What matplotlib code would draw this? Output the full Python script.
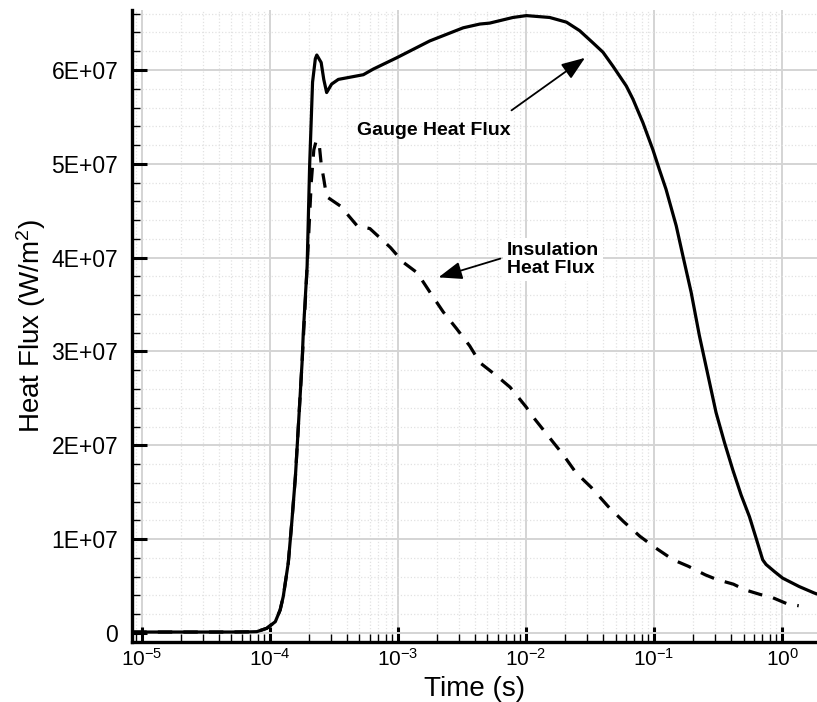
import numpy as np
import matplotlib
matplotlib.use("Agg")
import matplotlib.pyplot as plt
from matplotlib.ticker import FixedLocator, NullFormatter

plt.rcParams['font.family'] = ['Liberation Sans', 'DejaVu Sans']
plt.rcParams['mathtext.fontset'] = 'custom'
plt.rcParams['mathtext.rm'] = 'Liberation Sans'
plt.rcParams['mathtext.it'] = 'Liberation Sans:italic'
plt.rcParams['mathtext.bf'] = 'Liberation Sans:bold'

# Gauge heat flux (solid)
gauge_t = [8.4e-6, 5.0e-5, 7.0e-5, 7.89e-5, 9.44e-5, 1.10e-4, 1.20e-4, 1.27e-4, 1.39e-4,
           1.48e-4, 1.58e-4, 1.66e-4, 1.78e-4, 1.82e-4, 1.95e-4, 2.04e-4, 2.15e-4,
           2.26e-4, 2.32e-4, 2.51e-4, 2.63e-4, 2.77e-4, 3.03e-4, 3.42e-4, 5.36e-4,
           6.41e-4, 9.75e-4, 1.77e-3, 3.23e-3, 4.36e-3, 5.2e-3, 7.9e-3, 1.007e-2,
           1.53e-2, 2.07e-2, 2.62e-2, 3.33e-2, 3.99e-2, 4.78e-2, 6.07e-2, 6.84e-2,
           8.18e-2, 9.80e-2, 0.110, 0.124, 0.149, 0.168, 0.195, 0.226, 0.255, 0.305,
           0.355, 0.412, 0.479, 0.556, 0.627, 0.706, 0.750, 0.871, 1.01, 1.36, 1.79, 1.88]
gauge_q = [1e5, 1e5, 1.2e5, 1.4e5, 5e5, 1.2e6, 2.45e6, 3.9e6, 7.5e6,
           1.18e7, 1.67e7, 2.17e7, 2.88e7, 3.2e7, 3.91e7, 4.98e7, 5.87e7,
           6.12e7, 6.16e7, 6.08e7, 5.9e7, 5.76e7, 5.85e7, 5.9e7, 5.95e7,
           6.01e7, 6.13e7, 6.31e7, 6.45e7, 6.49e7, 6.50e7, 6.56e7, 6.58e7,
           6.56e7, 6.51e7, 6.42e7, 6.29e7, 6.19e7, 6.04e7, 5.83e7, 5.69e7,
           5.44e7, 5.15e7, 4.94e7, 4.73e7, 4.34e7, 4.02e7, 3.63e7, 3.17e7, 2.84e7, 2.35e7,
           2.03e7, 1.74e7, 1.47e7, 1.24e7, 1.01e7, 7.8e6, 7.3e6, 6.55e6, 5.85e6, 4.95e6, 4.25e6, 4.15e6]

# Insulation heat flux (dashed)
insul_t = [8.4e-6, 5.0e-5, 7.0e-5, 7.89e-5, 9.44e-5, 1.10e-4, 1.20e-4, 1.27e-4, 1.39e-4,
           1.48e-4, 1.58e-4, 1.66e-4, 1.78e-4, 1.95e-4, 2.1e-4, 2.2e-4, 2.3e-4, 2.42e-4,
           2.51e-4, 2.63e-4, 2.77e-4, 3.55e-4, 4.79e-4, 6.03e-4, 8.7e-4, 1.10e-3,
           1.41e-3, 1.82e-3, 2.26e-3, 2.88e-3, 3.63e-3, 4.37e-3, 5.9e-3, 7.5e-3,
           1.0e-2, 1.17e-2, 1.55e-2, 1.95e-2, 2.45e-2, 3.24e-2, 4.37e-2, 5.75e-2,
           7.76e-2, 0.102, 0.141, 0.186, 0.251, 0.309, 0.417, 0.513, 0.676, 0.832,
           1.10, 1.35]
insul_q = [1e5, 1e5, 1.2e5, 1.4e5, 5e5, 1.2e6, 2.45e6, 3.9e6, 7.5e6,
           1.18e7, 1.67e7, 2.17e7, 2.88e7, 3.9e7, 4.8e7, 5.15e7, 5.25e7, 5.22e7,
           5.0e7, 4.84e7, 4.65e7, 4.55e7, 4.34e7, 4.31e7, 4.11e7, 3.95e7,
           3.84e7, 3.61e7, 3.42e7, 3.24e7, 3.06e7, 2.88e7, 2.74e7, 2.62e7,
           2.41e7, 2.28e7, 2.07e7, 1.90e7, 1.71e7, 1.55e7, 1.35e7, 1.19e7,
           1.03e7, 9.1e6, 7.8e6, 7.1e6, 6.2e6, 5.7e6, 5.2e6, 4.6e6, 4.1e6, 3.8e6,
           3.1e6, 2.9e6]

y_ticks = [0, 1e7, 2e7, 3e7, 4e7, 5e7, 6e7]
y_labels = ['0', '1E+07', '2E+07', '3E+07', '4E+07', '5E+07', '6E+07']
x_ticks = [1e-5, 1e-4, 1e-3, 1e-2, 1e-1, 1e0]
x_labels = [r'$\mathregular{10^{-5}}$', r'$\mathregular{10^{-4}}$', r'$\mathregular{10^{-3}}$',
            r'$\mathregular{10^{-2}}$', r'$\mathregular{10^{-1}}$', r'$\mathregular{10^{0}}$']

fig = plt.figure(figsize=(8.17, 7.02), dpi=100)
ax = fig.add_axes([0.1616, 0.0855, 0.8384, 0.9003])

ax.plot(gauge_t, gauge_q, color='black', lw=2.3, zorder=3)
ln, = ax.plot(insul_t, insul_q, color='black', lw=2.3, zorder=3)
ln.set_dashes((4.5, 3.5))

ax.set_xscale('log')
ax.set_xlim(8.36e-6, 1.875)
ax.set_ylim(-9.6e5, 6.64e7)

ax.set_xticks(x_ticks)
ax.set_xticklabels(x_labels, fontsize=15)
ax.xaxis.set_minor_locator(FixedLocator(
    [m * 10.0 ** e for e in range(-6, 1) for m in range(2, 10)]))
ax.xaxis.set_minor_formatter(NullFormatter())
ax.set_yticks(y_ticks)
ax.set_yticklabels(y_labels, fontsize=16.5)
ax.yaxis.set_minor_locator(FixedLocator(np.arange(0, 6.7e7, 2e6)))

ax.tick_params(which='major', direction='in', length=11, width=2.2, pad=4, color='black')
ax.tick_params(axis='y', which='major', pad=10)
ax.tick_params(which='minor', direction='in', length=6, width=1.0, color='black')

ax.grid(which='major', color='#d4d4d4', lw=1.4, zorder=0)
ax.grid(which='minor', color='#e2e2e2', lw=0.9, ls=':', zorder=0)
ax.set_axisbelow(True)

for s in ['top', 'right']:
    ax.spines[s].set_visible(False)
for s in ['left', 'bottom']:
    ax.spines[s].set_linewidth(2.4)

ax.set_xlabel('Time (s)', fontsize=20, labelpad=5)
ax.set_ylabel('Heat Flux (W/m$^2$)', fontsize=20)
ax.yaxis.set_label_coords(-0.122, 0.5)

ax.text(4.8e-4, 5.36e7, 'Gauge Heat Flux', fontsize=14, fontweight='bold',
        ha='left', va='center', zorder=4)
ax.annotate('', xy=(0.0289, 6.13e7), xytext=(7.7e-3, 5.57e7),
            arrowprops=dict(arrowstyle='-|>,head_length=0.8,head_width=0.3',
                            color='black', lw=1.3, mutation_scale=18,
                            shrinkA=0, shrinkB=0), zorder=4)
ax.text(7.1e-3, 3.98e7, 'Insulation\nHeat Flux', fontsize=14, fontweight='bold',
        ha='left', va='center', linespacing=1.05, zorder=4,
        bbox=dict(facecolor='white', edgecolor='none', pad=3))
ax.annotate('', xy=(2.07e-3, 3.79e7), xytext=(6.3e-3, 3.99e7),
            arrowprops=dict(arrowstyle='-|>,head_length=0.8,head_width=0.3',
                            color='black', lw=1.3, mutation_scale=18,
                            shrinkA=0, shrinkB=0), zorder=4)

fig.savefig('out.png', dpi=100)
